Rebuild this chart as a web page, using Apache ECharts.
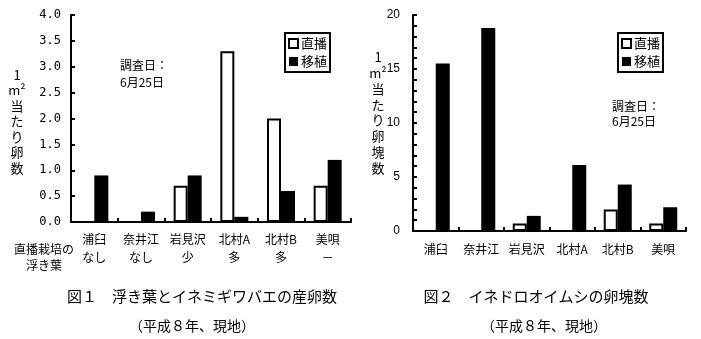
<!DOCTYPE html>
<html>
<head>
<meta charset="utf-8">
<script src="https://cdn.jsdelivr.net/npm/echarts@6/dist/echarts.min.js"></script>
<style>
html,body{margin:0;padding:0;background:#fff;}
#chart{width:701px;height:339px;}
</style>
</head>
<body>
<div id="chart"></div>
<script>
const categories = ['浦臼', '奈井江', '岩見沢', '北村A', '北村B', '美唄'];
const floatingLeaves = ['なし', 'なし', '少', '多', '多', '－'];
const seriesNames = ['直播', '移植'];
const fig1Direct = [0, 0, 0.7, 3.3, 2.0, 0.7];
const fig1Transplant = [0.9, 0.2, 0.9, 0.1, 0.6, 1.2];
const fig2Direct = [0, 0, 0.7, 0, 2.0, 0.7];
const fig2Transplant = [15.5, 18.8, 1.4, 6.1, 4.3, 2.2];
const fig1YTicks = { min: 0, max: 4, interval: 0.5 };
const fig2YTicks = { min: 0, max: 20, interval: 1, labelEvery: 5 };
const fig1Title = ['1', 'm²', '当', 'た', 'り', '卵', '数'];
const fig2Title = ['1', 'm²', '当', 'た', 'り', '卵', '塊', '数'];
const surveyNote = '調査日：\n6月25日';
const rowHeader = '直播栽培の\n浮き葉';
const caption1 = '図１　浮き葉とイネミギワバエの産卵数';
const caption2 = '図２　イネドロオイムシの卵塊数';
const captionSub = '（平成８年、現地）';

const CJK = "'Noto Sans CJK JP', 'DejaVu Sans', sans-serif";
const NUM = "'DejaVu Sans Mono', 'Noto Sans CJK JP', monospace";

const chart = echarts.init(document.getElementById('chart'), null, { renderer: 'canvas' });

const whiteStyle = { color: '#fff', borderColor: '#000', borderWidth: 2 };
const blackStyle = { color: '#000', borderColor: '#000', borderWidth: 0 };

function legend(left) {
  return {
    orient: 'vertical',
    left: left,
    top: 33,
    padding: [4, 3, 4, 3],
    itemGap: 5,
    itemWidth: 9,
    itemHeight: 9,
    borderColor: '#000',
    borderWidth: 2,
    backgroundColor: '#fff',
    selectedMode: false,
    textStyle: { fontSize: 13, color: '#000', fontFamily: CJK, padding: [0, 0, 0, -2] },
    data: [
      { name: seriesNames[0], icon: 'rect', itemStyle: whiteStyle },
      { name: seriesNames[1], icon: 'rect', itemStyle: { color: '#000' } }
    ]
  };
}

function xAxis(gridIndex, labels, margin, lineHeight) {
  return {
    type: 'category',
    gridIndex: gridIndex,
    data: labels,
    boundaryGap: true,
    axisLine: { lineStyle: { color: '#000', width: 2 } },
    axisTick: { show: true, inside: true, length: 4, alignWithLabel: false, lineStyle: { color: '#000', width: 2 } },
    axisLabel: { color: '#000', fontSize: 12, fontFamily: CJK, margin: margin, lineHeight: lineHeight, interval: 0 },
    splitLine: { show: false }
  };
}

function vertText(lines, cx, top, lh) {
  return {
    type: 'text',
    x: cx,
    y: top,
    style: {
      text: lines.join('\n'),
      font: '13px ' + CJK,
      fill: '#000',
      lineHeight: lh,
      textAlign: 'center',
      textVerticalAlign: 'top'
    }
  };
}

function centerText(text, cx, cy, size, lh) {
  return {
    type: 'text',
    x: cx,
    y: cy,
    style: {
      text: text,
      font: size + 'px ' + CJK,
      fill: '#000',
      lineHeight: lh || size + 2,
      textAlign: 'center',
      textVerticalAlign: 'middle'
    }
  };
}

const option = {
  backgroundColor: '#fff',
  animation: false,
  legend: [legend(285), legend(618)],
  grid: [
    { left: 71, right: 350, top: 15, bottom: 117, containLabel: false },
    { left: 413, right: 15, top: 15, bottom: 108, containLabel: false }
  ],
  xAxis: [
    xAxis(0, categories.map((c, i) => c + '\n' + floatingLeaves[i]), 8, 18),
    xAxis(1, categories, 11, 14)
  ],
  yAxis: [
    {
      type: 'value', gridIndex: 0,
      min: fig1YTicks.min, max: fig1YTicks.max, interval: fig1YTicks.interval,
      axisLine: { show: true, lineStyle: { color: '#000', width: 2 } },
      axisTick: { show: true, inside: true, length: 4, lineStyle: { color: '#000', width: 2 } },
      axisLabel: { color: '#000', fontSize: 12, fontFamily: NUM, margin: 10, formatter: v => v.toFixed(1) },
      splitLine: { show: false }
    },
    {
      type: 'value', gridIndex: 1,
      min: fig2YTicks.min, max: fig2YTicks.max, interval: fig2YTicks.interval,
      axisLine: { show: true, lineStyle: { color: '#000', width: 2 } },
      axisTick: { show: true, inside: true, length: 4, lineStyle: { color: '#000', width: 2 } },
      axisLabel: {
        color: '#000', fontSize: 12, fontFamily: "'Liberation Sans Narrow', 'Liberation Sans', sans-serif", margin: 13,
        formatter: v => (v % fig2YTicks.labelEvery === 0 ? String(v) : '')
      },
      splitLine: { show: false }
    }
  ],
  series: [
    { name: seriesNames[0], type: 'bar', xAxisIndex: 0, yAxisIndex: 0, data: fig1Direct, barWidth: 14, barGap: '0%', itemStyle: whiteStyle },
    { name: seriesNames[1], type: 'bar', xAxisIndex: 0, yAxisIndex: 0, data: fig1Transplant, barWidth: 14, barGap: '0%', itemStyle: blackStyle },
    { name: seriesNames[0], type: 'bar', xAxisIndex: 1, yAxisIndex: 1, data: fig2Direct, barWidth: 14, barGap: '0%', itemStyle: whiteStyle },
    { name: seriesNames[1], type: 'bar', xAxisIndex: 1, yAxisIndex: 1, data: fig2Transplant, barWidth: 14, barGap: '0%', itemStyle: blackStyle }
  ],
  graphic: [
    vertText(fig1Title, 17, 67, 15.5),
    vertText(fig2Title, 378, 49, 15.9),
    { type: 'text', x: 120, y: 57, style: { text: surveyNote, font: '12px ' + CJK, fill: '#000', lineHeight: 17, textVerticalAlign: 'top' } },
    { type: 'text', x: 612, y: 99, style: { text: surveyNote, font: '12px ' + CJK, fill: '#000', lineHeight: 15, textVerticalAlign: 'top' } },
    { type: 'text', x: 44, y: 241, style: { text: rowHeader, font: '12px ' + CJK, fill: '#000', lineHeight: 16, textAlign: 'center', textVerticalAlign: 'top' } },
    centerText(caption1, 202, 296, 15),
    centerText(captionSub, 192, 326, 14),
    centerText(caption2, 536, 296, 15),
    centerText(captionSub, 544, 326, 14)
  ]
};

chart.setOption(option);
</script>
</body>
</html>
